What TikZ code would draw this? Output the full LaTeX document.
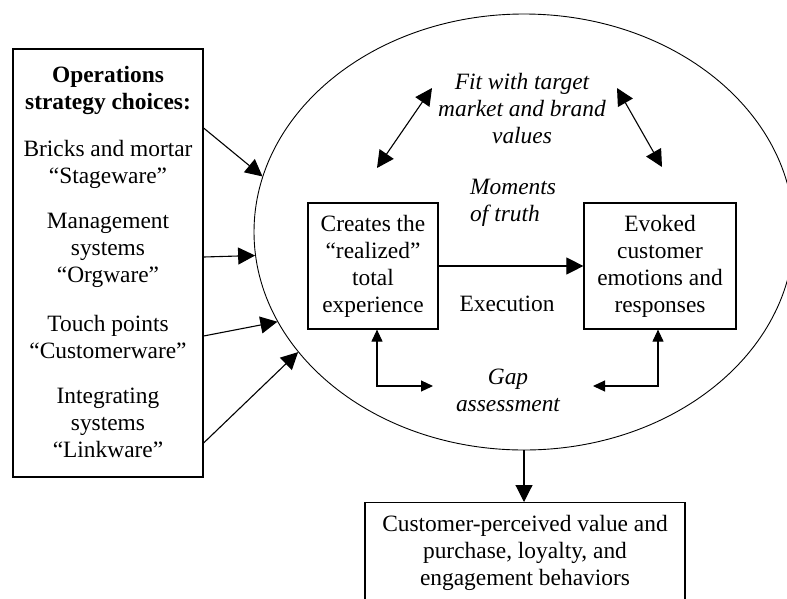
\documentclass[tikz,border=0pt]{standalone}
\usepackage{fontspec}
\setmainfont{Liberation Serif}
\usetikzlibrary{shapes.geometric, arrows.meta}

\begin{document}
\fontsize{23.4}{27}\selectfont
\begin{tikzpicture}[x=1pt, y=-1pt,
    box/.style={draw, line width=1.2pt, align=center, inner sep=0pt},
    txt/.style={align=center, inner sep=0pt},
    cue/.style={align=center, inner sep=0pt, font=\itshape},
    big/.style={line width=1.1pt, -{Triangle[length=17pt, width=17pt]}},
    dbl/.style={line width=1.1pt, {Triangle[length=17pt, width=17pt]}-{Triangle[length=17pt, width=17pt]}},
    small/.style={line width=1.1pt, {Triangle[length=12pt, width=11pt]}-{Triangle[length=12pt, width=11pt]}}]
    \clip (0,0) rectangle (787,598);

    % choices on the left
    \node[box, minimum width=190pt, minimum height=428pt] (choices) at (108,263) {};
    \node[txt, font=\bfseries] (head) at (108,90) {Operations\\strategy choices:};
    \node[txt] (stage) at (108,164) {Bricks and mortar\\“Stageware”};
    \node[txt] (org) at (108,250) {Management\\systems\\“Orgware”};
    \node[txt] (cust) at (108,337) {Touch points\\“Customerware”};
    \node[txt] (link) at (108,423) {Integrating\\systems\\“Linkware”};

    % the experience oval
    \node[draw, ellipse, line width=0.9pt, minimum width=540pt, minimum height=436pt, inner sep=0pt] (oval) at (524,232) {};
    \node[box, minimum width=130pt, minimum height=126pt] (real) at (373,266) {Creates the\\“realized”\\total\\experience};
    \node[box, minimum width=152pt, minimum height=126pt] (evoked) at (660,266) {Evoked\\customer\\emotions and\\responses};
    \node[cue] (fit) at (522,109) {Fit with target\\market and brand\\values};
    \node[cue, anchor=west, align=left] (truth) at (470,203) {Moments\\of truth};
    \node[txt] (exec) at (507,304) {Execution};
    \node[cue] (gap) at (508,390) {Gap\\assessment};

    \node[box, anchor=north, minimum width=320pt, inner ysep=13pt] (value) at (525,502) {Customer-perceived value and\\purchase, loyalty, and\\engagement behaviors};

    \coordinate (fitL) at (432,88);
    \coordinate (realT) at (377,168);
    \coordinate (fitR) at (617,88);
    \coordinate (evokedT) at (662,167);
    \coordinate (gapL) at (433,386);
    \coordinate (gapR) at (593,386);

    \draw[big] ([yshift=135pt]choices.east) -- (oval.168);
    \draw[big] ([yshift=6pt]choices.east) -- (oval.185.3);
    \draw[big] ([yshift=-73pt]choices.east) -- (oval.200);
    \draw[big] ([yshift=-180pt]choices.east) -- (oval.208);

    \draw[dbl] (realT) -- (fitL);
    \draw[dbl] (fitR) -- (evokedT);
    \draw[big] (real) -- (evoked);
    \draw[small] ([xshift=4pt]real.south) |- (gapL);
    \draw[small] ([xshift=-2pt]evoked.south) |- (gapR);
    \draw[big] (oval.south) -- (oval.south |- value.north);
\end{tikzpicture}
\end{document}
